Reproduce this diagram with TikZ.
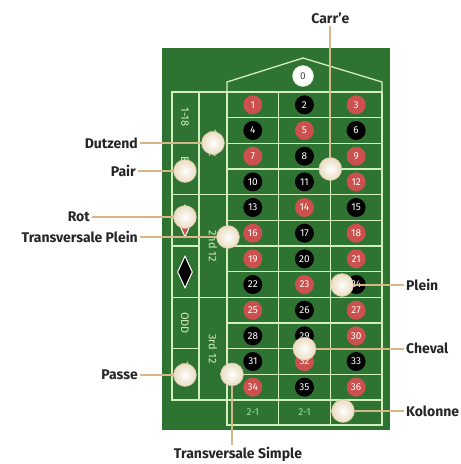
\documentclass[tikz,border=0pt]{standalone}
\usepackage{fontspec}
\setmainfont{Fira Sans}
\usetikzlibrary{shapes.geometric,calc}
\definecolor{felt}{HTML}{2F7332}
\definecolor{gridc}{HTML}{D2F0BE}
\definecolor{redc}{HTML}{CC504E}
\definecolor{chipc}{HTML}{EADCC0}
\definecolor{chipedge}{HTML}{D3C09C}
\definecolor{wirec}{HTML}{D6B888}
\definecolor{twoone}{HTML}{9FE39A}
\pgfdeclarelayer{table}
\pgfdeclarelayer{wires}
\pgfsetlayers{table,wires,main}

\begin{document}
\begin{tikzpicture}[x=1pt,y=-1pt,
  gridline/.style={draw=gridc,line width=1.3pt},
  num/.style={circle,minimum size=19pt,inner sep=0pt,text=white,font=\fontsize{10}{10}\selectfont},
  strip/.style={rotate=-90,text=gridc,font=\fontsize{11}{11}\selectfont},
  chip/.style={circle,inner color=white,outer color=chipc,draw=chipedge,minimum size=23pt,inner sep=0pt},
  lab/.style={font=\fontsize{14}{16}\selectfont\bfseries,text=black!85,inner sep=2pt},
  wire/.style={draw=wirec,line width=1.8pt}]

  \useasboundingbox (0,0) rectangle (461,464);
  \begin{pgfonlayer}{table}
  \fill[white] (0,0) rectangle (461,464);
  \fill[felt] (162,48) rectangle (390,430);

  % number grid
  \draw[gridline] (227,92) rectangle (382,425);
  \foreach \k in {1,...,12}
    \draw[gridline] (227,{92+\k*25.67}) -- (382,{92+\k*25.67});
  \draw[gridline] (278.7,92) -- (278.7,425);
  \draw[gridline] (330.3,92) -- (330.3,425);
  \draw[gridline] (227,92) -- (227,82) -- (303,58) -- (382,82) -- (382,92);

  % outside bets
  \draw[gridline] (172,92) rectangle (227,400);
  \draw[gridline] (199,92) -- (199,400);
  \foreach \k in {1,...,5}
    \draw[gridline] (172,{92+\k*51.33}) -- (199,{92+\k*51.33});
  \foreach \k in {1,2}
    \draw[gridline] (199,{92+\k*102.67}) -- (227,{92+\k*102.67});

  \node[strip] (low) at (185,117) {1-18};
  \node[strip] (even) at (185,169) {EVEN};
  \node[diamond,draw=white,fill=redc,line width=1pt,inner sep=0pt,minimum width=15pt,minimum height=32pt] (red) at (185,221) {};
  \node[diamond,draw=white,fill=black,line width=1pt,inner sep=0pt,minimum width=15pt,minimum height=32pt] (black) at (185,272) {};
  \node[strip] (odd) at (185,323) {ODD};
  \node[strip] (high) at (185,374) {19-36};
  \node[strip] (d1) at (213,143) {1st 12};
  \node[strip] (d2) at (213,246) {2nd 12};
  \node[strip] (d3) at (213,349) {3rd 12};

  \node[circle,fill=white,draw=gridc,minimum size=21pt,inner sep=0pt,text=black!70,font=\fontsize{10}{10}\selectfont] (zero) at (303,76) {0};
  \foreach \n/\c in {1/redc,2/black,3/redc,4/black,5/redc,6/black,7/redc,8/black,9/redc,
      10/black,11/black,12/redc,13/black,14/redc,15/black,16/redc,17/black,18/redc,
      19/redc,20/black,21/redc,22/black,23/redc,24/black,25/redc,26/black,27/redc,
      28/black,29/black,30/redc,31/black,32/redc,33/black,34/redc,35/black,36/redc} {
    \pgfmathtruncatemacro\row{(\n-1)/3}
    \pgfmathtruncatemacro\col{mod(\n-1,3)}
    \node[num,fill=\c] (n\n) at ({252.8+\col*51.67},{92+(\row+0.5)*25.67}) {\n};
  }
  \node[text=twoone,font=\fontsize{10}{10}\selectfont] (col1) at (252.8,412) {2-1};
  \node[text=twoone,font=\fontsize{10}{10}\selectfont] (col2) at (304.5,412) {2-1};
  \end{pgfonlayer}

  % chips and labels
  \node[chip] (cDutzend) at (213,143) {};
  \node[chip] (cPair) at (185,171) {};
  \node[chip] (cRot) at (185,217) {};
  \node[chip] (cTPlein) at (228,237) {};
  \node[chip] (cCarre) at (330.3,169) {};
  \node[chip] (cPlein) at (342,285) {};
  \node[chip] (cCheval) at (304.5,348.7) {};
  \node[chip] (cKolonne) at (343,411) {};
  \node[chip] (cTSimple) at (232,374.4) {};
  \node[chip] (cPasse) at (185,375) {};

  \node[lab,anchor=east] (dutzend) at (140,143) {Dutzend};
  \node[lab,anchor=east] (pair) at (138,171) {Pair};
  \node[lab,anchor=east] (rot) at (92,217) {Rot};
  \node[lab,anchor=east] (tplein) at (140,237) {Transversale Plein};
  \node[lab,anchor=east] (passe) at (140,375) {Passe};
  \node[lab] (carre) at (330.3,18) {Carr'e};
  \node[lab] (tsimple) at (238,454) {Transversale Simple};
  \node[lab,anchor=west] (plein) at (404,285) {Plein};
  \node[lab,anchor=west] (cheval) at (404,348.7) {Cheval};
  \node[lab,anchor=west] (kolonne) at (404,411) {Kolonne};

  \begin{pgfonlayer}{wires}
  \foreach \a/\b in {dutzend/cDutzend,pair/cPair,rot/cRot,tplein/cTPlein,passe/cPasse,
      carre/cCarre,plein/cPlein,cheval/cCheval,kolonne/cKolonne}
    \draw[wire] (\a) -- (\b.center);
  \draw[wire] (cTSimple.center) -- (cTSimple |- tsimple.north);
  \end{pgfonlayer}
\end{tikzpicture}
\end{document}
